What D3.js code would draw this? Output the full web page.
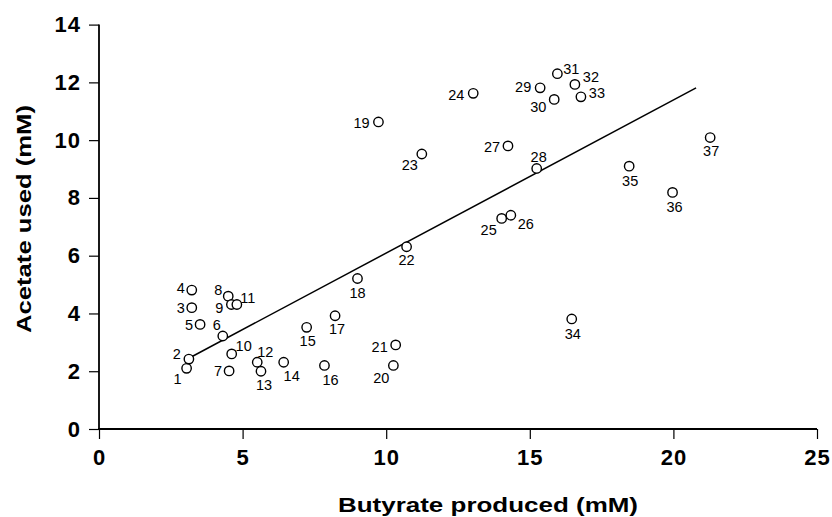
<!DOCTYPE html>
<html>
<head>
<meta charset="utf-8">
<script src="https://cdn.jsdelivr.net/npm/d3@7"></script>
<style>
  body { margin: 0; background: #fff; }
  svg { display: block; }
  text { font-family: "Liberation Sans", Arial, Helvetica, sans-serif; fill: #000; }
</style>
</head>
<body>
<div id="container"></div>
<script>
// sample numbers and measured values
var ids = [1,2,3,4,5,6,7,8,9,10,11,12,13,14,15,16,17,18,19,20,21,22,23,24,25,26,27,28,29,30,31,32,33,34,35,36,37];
var butyrate = [3.05,3.13,3.23,3.23,3.52,4.31,4.53,4.50,4.61,4.62,4.80,5.51,5.64,6.43,7.23,7.85,8.22,9.00,9.73,10.25,
                10.33,10.71,11.24,13.03,14.02,14.34,14.24,15.24,15.36,15.85,15.96,16.57,16.78,16.46,18.46,19.97,21.28];
var acetate = [2.10,2.42,4.20,4.81,3.62,3.22,2.01,4.60,4.31,2.60,4.31,2.31,2.00,2.31,3.52,2.20,3.92,5.21,10.63,2.20,
               2.91,6.31,9.52,11.62,7.29,7.40,9.80,9.02,11.81,11.41,12.30,11.93,11.50,3.81,9.10,8.19,10.09];

// regression line ends
var fitX = [3.13, 20.79];
var fitY = [2.45, 11.81];

var xTicks = [0,5,10,15,20,25];
var yTicks = [0,2,4,6,8,10,12,14];

// where each number label sits relative to its circle (px)
var labelOffsets = [[-9,10],[-12,-5],[-11,0],[-11,-2],[-11,0],[-6,-11],[-11,0],[-10,-6],[-12,3],[12,-8],
  [11,-7],[8,-10],[3,14],[8,14],[1,13],[6,14],[2,13],[0,14],[-17,1],[-12,12],
  [-16,2],[0,13],[-12,11],[-17,1],[-13,11],[15,9],[-16,1],[2,-12],[-17,-1],[-16,7],
  [14,-5],[16,-8],[16,-4],[1,15],[1,15],[2,14],[1,13]];

var width = 832, height = 517;

var svg = d3.select("#container").append("svg")
  .attr("width", width)
  .attr("height", height);

var x = d3.scaleLinear().domain([0,25]).range([99,817]);
var y = d3.scaleLinear().domain([0,14]).range([429,24.6]);

var points = ids.map(function(d,i){
  return {id:d, x:butyrate[i], y:acetate[i], off:labelOffsets[i]};
});

// y axis
var yAxis = svg.append("g")
  .attr("transform","translate(" + x(0) + ",0)")
  .call(d3.axisLeft(y).tickValues(yTicks).tickSize(10).tickSizeOuter(0).tickPadding(8));
yAxis.select(".domain").remove();
yAxis.selectAll(".tick line").attr("stroke","#000").attr("stroke-width",1.2);
yAxis.selectAll(".tick text")
  .style("font-size","22px").style("font-weight","bold").style("letter-spacing","1px")
  .attr("fill","#000");

// x axis
var xAxis = svg.append("g")
  .attr("transform","translate(0," + y(0) + ")")
  .call(d3.axisBottom(x).tickValues(xTicks).tickSize(10).tickSizeOuter(0).tickPadding(10));
xAxis.select(".domain").remove();
xAxis.selectAll(".tick line").attr("stroke","#000").attr("stroke-width",1.2);
xAxis.selectAll(".tick text")
  .style("font-size","22px").style("font-weight","bold").style("letter-spacing","1px")
  .attr("fill","#000");

// axis lines
svg.append("line")
  .attr("x1",x(0)).attr("x2",x(0)).attr("y1",y(14)).attr("y2",y(0))
  .attr("stroke","#000").attr("stroke-width",1.8);
svg.append("line")
  .attr("x1",x(0)-1).attr("x2",x(25)).attr("y1",y(0)).attr("y2",y(0))
  .attr("stroke","#000").attr("stroke-width",1.8);

// regression line
svg.append("line")
  .attr("x1",x(fitX[0])).attr("y1",y(fitY[0]))
  .attr("x2",x(fitX[1])).attr("y2",y(fitY[1]))
  .attr("stroke","#000").attr("stroke-width",1.5);

// points
svg.selectAll("circle")
  .data(points)
  .enter()
  .append("circle")
    .attr("cx", d=>x(d.x))
    .attr("cy", d=>y(d.y))
    .attr("r", 4.7)
    .attr("fill","#fff")
    .attr("stroke","#000")
    .attr("stroke-width",1.4);

svg.selectAll(".pt-label")
  .data(points)
  .enter()
  .append("text")
    .attr("class","pt-label")
    .attr("x", d=>x(d.x) + d.off[0])
    .attr("y", d=>y(d.y) + d.off[1])
    .attr("dy","0.36em")
    .attr("text-anchor","middle")
    .style("font-size","14.5px")
    .text(d=>d.id);

// axis titles
svg.append("text")
  .attr("x",488).attr("y",512)
  .attr("text-anchor","middle")
  .attr("textLength",300).attr("lengthAdjust","spacingAndGlyphs")
  .style("font-size","21px").style("font-weight","bold")
  .text("Butyrate produced (mM)");

svg.append("text")
  .attr("transform","translate(31,219) rotate(-90)")
  .attr("text-anchor","middle")
  .attr("textLength",228).attr("lengthAdjust","spacingAndGlyphs")
  .style("font-size","21px").style("font-weight","bold")
  .text("Acetate used (mM)");
</script>
</body>
</html>
